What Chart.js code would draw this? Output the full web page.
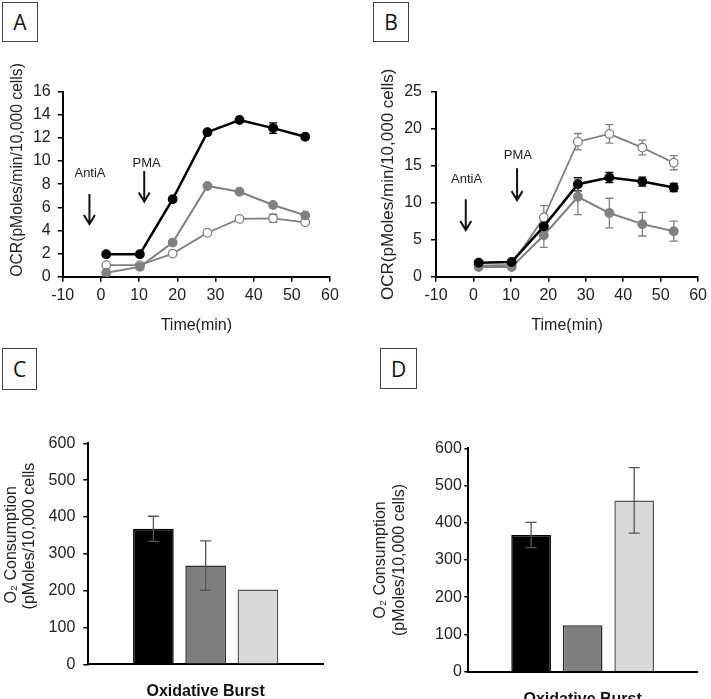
<!DOCTYPE html>
<html>
<head>
<meta charset="utf-8">
<script src="https://cdn.jsdelivr.net/npm/chart.js@4.4.1/dist/chart.umd.min.js"></script>
<style>
body { margin: 0; background: #fff; width: 711px; height: 699px; overflow: hidden; position: relative; }
canvas { position: absolute; }
.tag { position: absolute; box-sizing: border-box; border: 1px solid #444; background: #fff;
       font-family: "Open Sans", sans-serif; font-size: 21px; color: #111;
       display: flex; align-items: center; justify-content: center; }
</style>
</head>
<body>
<canvas id="chartA" width="355" height="339" style="left:0;top:0"></canvas>
<canvas id="chartB" width="356" height="339" style="left:355px;top:0"></canvas>
<canvas id="chartC" width="355" height="304" style="left:0;top:395px"></canvas>
<canvas id="chartD" width="356" height="304" style="left:355px;top:395px"></canvas>
<div class="tag" style="left:2px;top:2px;width:36px;height:40px">A</div>
<div class="tag" style="left:373px;top:2px;width:36px;height:40px">B</div>
<div class="tag" style="left:2px;top:348px;width:35px;height:42px">C</div>
<div class="tag" style="left:380px;top:348px;width:37px;height:41px">D</div>
<script>
// time points (min)
const time = [1.4, 10.2, 18.8, 27.9, 36.3, 45.1, 53.5];

// panel A: OCR
const blackA = [1.95, 1.95, 6.7, 12.5, 13.55, 12.85, 12.1];
const blackErrA = [0, 0, 0, 0.1, 0.1, 0.45, 0.15];
const grayA = [0.35, 0.85, 2.95, 7.85, 7.35, 6.2, 5.3];
const grayErrA = [0, 0, 0, 0, 0, 0.1, 0.1];
const openA = [1.0, 1.0, 2.0, 3.8, 5.0, 5.05, 4.7];
const openErrA = [0, 0, 0, 0, 0, 0.35, 0.1];

// panel B: OCR
const blackB = [1.9, 2.0, 6.8, 12.5, 13.4, 12.85, 12.05];
const blackErrB = [0.1, 0.1, 0.3, 0.9, 0.7, 0.6, 0.55];
const grayB = [1.3, 1.3, 5.6, 10.8, 8.6, 7.1, 6.15];
const grayErrB = [0.1, 0.1, 1.65, 2.4, 2.0, 1.6, 1.35];
const openB = [1.5, 1.6, 8.0, 18.25, 19.3, 17.45, 15.4];
const openErrB = [0.1, 0.1, 1.6, 1.1, 1.25, 1.0, 0.95];

// panels C and D: oxidative burst
const burstLabels = ['Oxidative Burst'];
const burstC = [368, 268, 203];
const burstErrC = [34, 67, 0];
const burstD = [367, 125, 460];
const burstErrD = [34, 0, 88];
const barColors = ['#000000', '#7f7f7f', '#d9d9d9'];
const barEdges = ['#000000', '#2b2b2b', '#555555'];

// injection arrows (data units)
const notesA = [
  { label: 'AntiA', x: -3.0, textX: -2.85, textY: 8.95, from: 7.15, to: 4.55 },
  { label: 'PMA', x: 11.35, textX: 12.0, textY: 9.8, from: 9.15, to: 6.5 }
];
const notesB = [
  { label: 'AntiA', x: -2.05, textX: -1.85, textY: 13.15, from: 10.45, to: 6.3 },
  { label: 'PMA', x: 11.65, textX: 11.85, textY: 16.45, from: 14.65, to: 10.35 }
];

Chart.defaults.font.family = '"Liberation Sans", Arial, sans-serif';
Chart.defaults.font.size = 16;
Chart.defaults.color = '#222';

function drawErrors(chart, opts) {
  const ctx = chart.ctx, yScale = chart.scales.y;
  ctx.save();
  chart.data.datasets.forEach((ds, i) => {
    if (!ds.errors) return;
    const meta = chart.getDatasetMeta(i);
    meta.data.forEach((el, j) => {
      const err = ds.errors[j];
      if (!err) return;
      const raw = ds.data[j];
      const v = typeof raw === 'object' ? raw.y : raw;
      const top = yScale.getPixelForValue(v + err);
      const bot = yScale.getPixelForValue(v - err);
      ctx.strokeStyle = ds.errorColor || '#555';
      ctx.lineWidth = opts.width;
      ctx.beginPath();
      ctx.moveTo(el.x, top); ctx.lineTo(el.x, bot);
      ctx.moveTo(el.x - opts.cap, top); ctx.lineTo(el.x + opts.cap, top);
      ctx.moveTo(el.x - opts.cap, bot); ctx.lineTo(el.x + opts.cap, bot);
      ctx.stroke();
    });
  });
  ctx.restore();
}

const errorBars = {
  id: 'errorBars',
  defaults: { under: false, cap: 4, width: 1.2 },
  beforeDatasetsDraw(chart, args, opts) { if (opts.under) drawErrors(chart, opts); },
  afterDatasetsDraw(chart, args, opts) { if (!opts.under) drawErrors(chart, opts); }
};

const arrowNotes = {
  id: 'arrowNotes',
  afterDatasetsDraw(chart, args, opts) {
    if (!opts.items) return;
    const ctx = chart.ctx, x = chart.scales.x, y = chart.scales.y;
    ctx.save();
    opts.items.forEach(n => {
      const px = x.getPixelForValue(n.x);
      const y1 = y.getPixelForValue(n.from), y2 = y.getPixelForValue(n.to);
      ctx.strokeStyle = '#111';
      ctx.lineWidth = 2;
      ctx.beginPath();
      ctx.moveTo(px, y1); ctx.lineTo(px, y2 - 1);
      ctx.moveTo(px - 5.5, y2 - 9); ctx.lineTo(px, y2); ctx.lineTo(px + 5.5, y2 - 9);
      ctx.stroke();
      ctx.fillStyle = '#222';
      ctx.font = '13px "Liberation Sans", Arial, sans-serif';
      ctx.textAlign = 'center';
      ctx.textBaseline = 'middle';
      ctx.fillText(n.label, x.getPixelForValue(n.textX), y.getPixelForValue(n.textY));
    });
    ctx.restore();
  }
};

Chart.register(errorBars, arrowNotes);

function series(values, errors, color, fill, width) {
  return {
    data: values.map((v, i) => ({ x: time[i], y: v })),
    errors: errors,
    errorColor: color,
    borderColor: color,
    borderWidth: width,
    pointBackgroundColor: fill,
    pointBorderColor: color,
    pointBorderWidth: 1.3,
    pointRadius: 4.3,
    tension: 0
  };
}

function axisGrid(len) {
  return { drawOnChartArea: false, drawTicks: true, tickLength: len, color: '#000', lineWidth: 1.5 };
}

function lineChart(id, datasets, yMax, yStep, notes, layout, titleCfg) {
  return new Chart(document.getElementById(id), {
    type: 'line',
    data: { datasets: datasets },
    options: {
      responsive: false,
      animation: false,
      layout: { padding: { top: layout.top, right: layout.right, left: 0, bottom: 0 } },
      plugins: {
        legend: { display: false },
        tooltip: { enabled: false },
        errorBars: { under: true, cap: 4, width: 1.3 },
        arrowNotes: { items: notes }
      },
      scales: {
        x: {
          type: 'linear', min: -10, max: 60,
          ticks: { stepSize: 10, padding: 4, color: '#222' },
          grid: axisGrid(5),
          border: { color: '#000', width: 2 },
          title: { display: true, text: 'Time(min)', color: '#222', padding: { top: 0, bottom: 4 } },
          afterFit: s => { s.height = layout.xh; }
        },
        y: {
          min: 0, max: yMax,
          ticks: { stepSize: yStep, padding: layout.tickPad, color: '#222' },
          grid: axisGrid(5),
          border: { color: '#000', width: 2 },
          title: titleCfg,
          afterFit: s => { s.width = layout.yw; }
        }
      }
    }
  });
}

lineChart('chartA', [
  series(blackA, blackErrA, '#000000', '#000000', 2.5),
  series(grayA, grayErrA, '#808080', '#808080', 2),
  series(openA, openErrA, '#808080', '#ffffff', 1.8)
], 16, 2, notesA,
  { top: 91.7, right: 25, xh: 62.3, yw: 62.7, tickPad: 7 },
  { display: true, text: 'OCR(pMoles/min/10,000 cells)', align: 'start', color: '#222',
    font: { size: 15.7 }, padding: { top: 8.7, bottom: 0 } });

lineChart('chartB', [
  series(blackB, blackErrB, '#000000', '#000000', 2.5),
  series(grayB, grayErrB, '#808080', '#808080', 2),
  series(openB, openErrB, '#808080', '#ffffff', 1.8)
], 25, 5, notesB,
  { top: 91.7, right: 11, xh: 62.3, yw: 81, tickPad: 9 },
  { display: true, text: 'OCR(pMoles/min/10,000 cells)', color: '#222',
    font: { size: 17 }, padding: { top: 23, bottom: 0 } });

function barChart(id, values, errors, layout, titleText) {
  return new Chart(document.getElementById(id), {
    type: 'bar',
    data: {
      labels: burstLabels,
      datasets: values.map((v, i) => ({
        data: [v],
        errors: [errors[i]],
        errorColor: '#555',
        backgroundColor: barColors[i],
        borderColor: barEdges[i],
        borderWidth: 1.5
      }))
    },
    options: {
      responsive: false,
      animation: false,
      layout: { padding: { top: layout.top, right: layout.right, left: 0, bottom: 0 } },
      datasets: { bar: { categoryPercentage: layout.cat, barPercentage: layout.bar } },
      plugins: {
        legend: { display: false },
        tooltip: { enabled: false },
        errorBars: { under: false, cap: 5.5, width: 1.3 }
      },
      scales: {
        x: {
          grid: { display: false },
          border: { color: '#000', width: 2 },
          ticks: { padding: 10, color: '#111', font: { weight: 'bold', size: 16 } },
          afterFit: s => { s.height = layout.xh; }
        },
        y: {
          min: 0, max: 600,
          ticks: { stepSize: 100, padding: layout.tickPad, color: '#222' },
          grid: axisGrid(layout.tickLen),
          border: { color: '#000', width: 2 },
          title: { display: true, text: titleText, color: '#222',
                   font: { size: 16, lineHeight: layout.lh }, padding: { top: layout.titlePad, bottom: 0 } },
          afterFit: s => { s.width = layout.yw; }
        }
      }
    }
  });
}

barChart('chartC', burstC, burstErrC,
  { top: 48.3, right: 32, xh: 34.7, yw: 88.3, tickPad: 8, tickLen: 5, cat: 0.668, bar: 0.778, lh: 1.1, titlePad: 3.2 },
  ['    O\u2082 Consumption', '        (pMoles/10,000 cells']);

barChart('chartD', burstD, burstErrD,
  { top: 53.3, right: 14, xh: 27.3, yw: 113.3, tickPad: 2.5, tickLen: 4, cat: 0.676, bar: 0.77, lh: 1.17, titlePad: 16.6 },
  ['O\u2082 Consumption', '(pMoles/10,000 cells)']);
</script>
</body>
</html>
